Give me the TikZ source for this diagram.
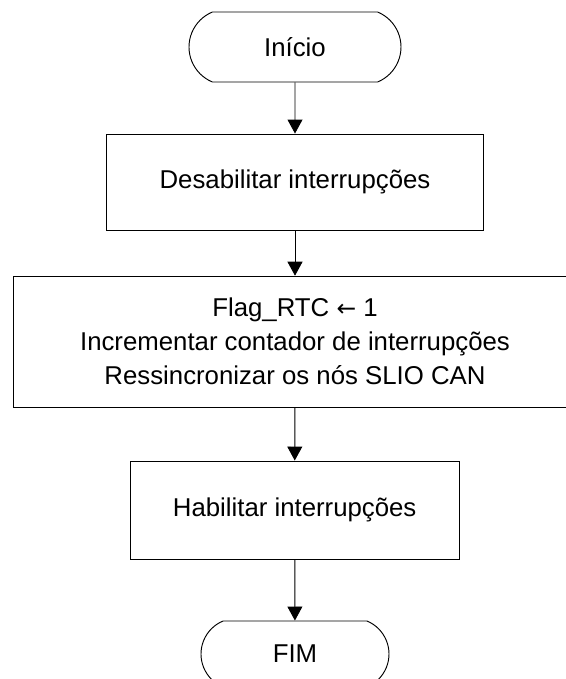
\documentclass[tikz,border=0pt]{standalone}
\usepackage{fontspec}
\setmainfont{Liberation Sans}
\newfontfamily\setas{DejaVu Sans}
\usetikzlibrary{arrows.meta,shapes.misc}
\begin{document}
\begin{tikzpicture}[>={Triangle[width=4.5mm,length=4.2mm]},line width=0.8pt,
  terminal/.style={draw,rounded rectangle,rounded rectangle arc length=135,
    minimum height=2.1cm,inner sep=0pt},
  processo/.style={draw,rectangle,inner sep=0pt,align=center}]
\clip(0,0) rectangle (16.98,-20.37);
\fontsize{22}{29}\selectfont
\node[terminal,minimum width=6.36cm] (inicio) at (8.85,-1.41){Início};
\node[processo,minimum width=11.31cm,minimum height=2.88cm] (desab) at (8.85,-5.46){Desabilitar interrupções};
\node[processo,minimum width=16.92cm,minimum height=3.93cm] (flag) at (8.85,-10.25){Flag\_RTC {\setas\fontsize{20}{29}\selectfont ←} 1\\Incrementar contador de interrupções\\Ressincronizar os nós SLIO CAN};
\node[processo,minimum width=9.87cm,minimum height=2.94cm] (habil) at (8.84,-15.3){Habilitar interrupções};
\node[terminal,minimum width=5.64cm,minimum height=1.98cm] (fim) at (8.85,-19.62){FIM};
\draw[->](inicio)--(desab);
\draw[->](desab)--(flag);
\draw[->](flag)--(habil);
\draw[->](habil)--(fim);
\end{tikzpicture}
\end{document}
